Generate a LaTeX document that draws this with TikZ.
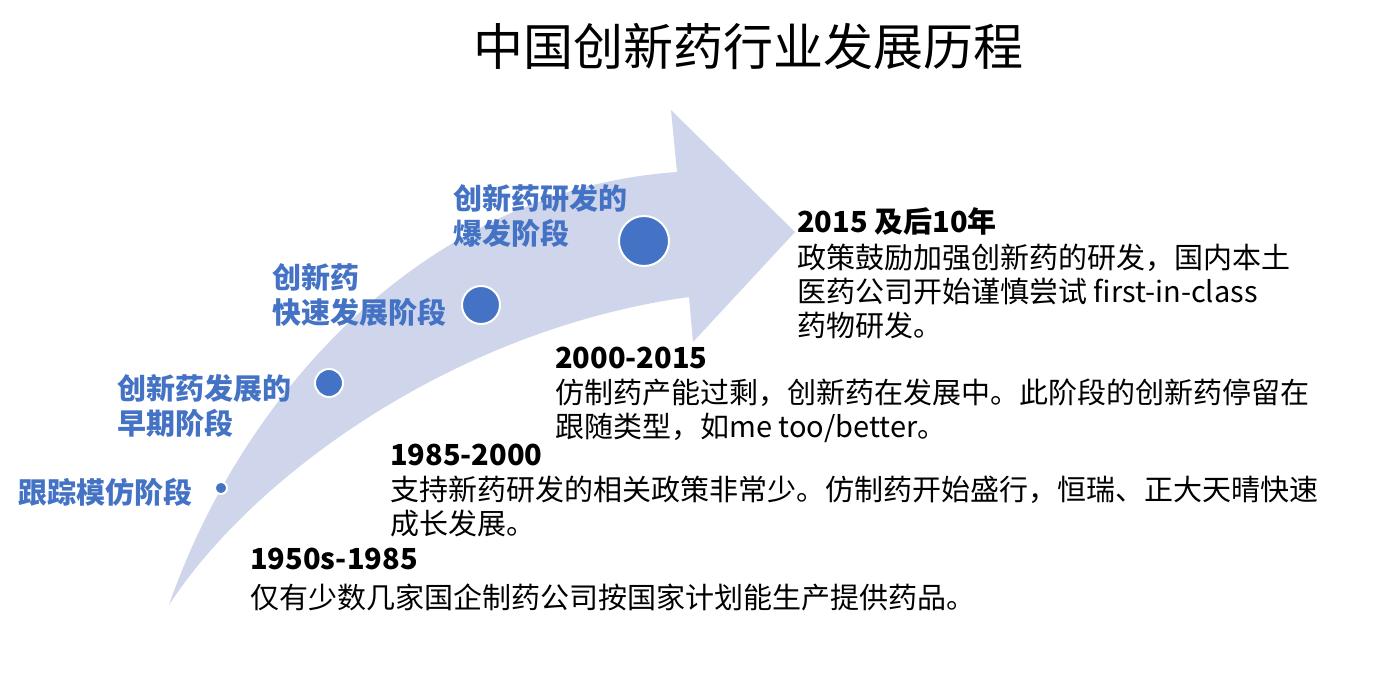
\documentclass[tikz,border=0pt]{standalone}
\usepackage{fontspec}
\setmainfont{Noto Sans CJK SC}
\definecolor{blueC}{HTML}{4472C4}
\definecolor{arrowC}{HTML}{CFD5EA}
\begin{document}
\begin{tikzpicture}[x=1pt,y=-1pt,
  lbl/.style={font=\fontsize{29}{35}\selectfont\bfseries, text=blueC, align=left, inner sep=0},
  hd/.style={font=\fontsize{29}{34}\selectfont\bfseries, inner sep=0, anchor=west},
  bd/.style={font=\fontsize{29}{34}\selectfont, align=left, inner sep=0, anchor=north west},
  dot/.style={circle, fill=blueC, draw=white, line width=2pt, inner sep=0}]
\useasboundingbox (0,0) rectangle (1400,696);
% big curved arrow
\fill[arrowC] (169,605) .. controls (240,400) and (420,190) .. (677,172)
  -- (671,110) -- (795,232) -- (693,342) -- (689,297)
  .. controls (450,330) and (250,480) .. (169,605) -- cycle;
% title
\node[font=\fontsize{50}{58}\selectfont, inner sep=0] (title) at (748,46) {中国创新药行业发展历程};
% dots
\node[dot, minimum size=12pt] (c1) at (221,488) {};
\node[dot, minimum size=28pt] (c2) at (329,383) {};
\node[dot, minimum size=38pt] (c3) at (481,305) {};
\node[dot, minimum size=50pt] (c4) at (644,241) {};
% stage labels
\node[lbl, anchor=west] (l1) at (18,492) {跟踪模仿阶段};
\node[lbl, anchor=north west] (l2) at (117,374) {创新药发展的\\早期阶段};
\node[lbl, anchor=north west] (l3) at (272,263) {创新药\\快速发展阶段};
\node[lbl, anchor=north west] (l4) at (453,184) {创新药研发的\\爆发阶段};
% period texts
\node[hd] (h1) at (250,559) {1950s-1985};
\node[bd] (b1) at (250,584) {仅有少数几家国企制药公司按国家计划能生产提供药品。};
\node[hd] (h2) at (390,455) {1985-2000};
\node[bd] (b2) at (390,476) {支持新药研发的相关政策非常少。仿制药开始盛行，恒瑞、正大天晴快速\\成长发展。};
\node[hd] (h3) at (555,358) {2000-2015};
\node[bd] (b3) at (555,379) {仿制药产能过剩，创新药在发展中。此阶段的创新药停留在\\跟随类型，如me too/better。};
\node[hd] (h4) at (797,221) {2015 及后10年};
\node[bd] (b4) at (797,244) {政策鼓励加强创新药的研发，国内本土\\医药公司开始谨慎尝试 first-in-class\\药物研发。};
\end{tikzpicture}
\end{document}
